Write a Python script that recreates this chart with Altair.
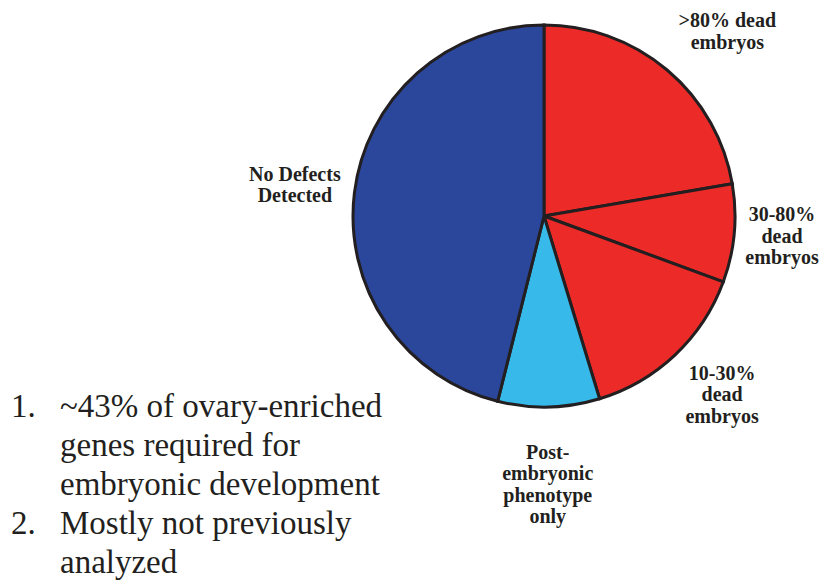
import altair as alt
import pandas as pd

# Share of ovary-enriched genes in each RNAi phenotype class (percent)
categories = [
    ">80% dead embryos",
    "30-80% dead embryos",
    "10-30% dead embryos",
    "Post-embryonic phenotype only",
    "No Defects Detected",
]
shares = [22.3, 8.3, 14.7, 8.6, 46.1]
label_lines = [
    [">80% dead", "embryos"],
    ["30-80%", "dead", "embryos"],
    ["10-30%", "dead", "embryos"],
    ["Post-", "embryonic", "phenotype", "only"],
    ["No Defects", "Detected"],
]
slice_colors = ["#EC2A28", "#EC2A28", "#EC2A28", "#37BAEA", "#2B479C"]

bullet_numbers = ["1.", "", "", "2.", ""]
bullet_lines = [
    "~43% of ovary-enriched",
    "genes required for",
    "embryonic development",
    "Mostly not previously",
    "analyzed",
]

df = pd.DataFrame({
    "category": categories,
    "share": shares,
    "label": ["|".join(lines) for lines in label_lines],
    "order": list(range(len(categories))),
})
total = sum(shares)

INK = "#231F20"
SERIF = "Liberation Serif"
CX, CY, R = 544, 216, 191
LINE_H = 21.5
theta_scale = alt.Scale(domain=[0, total])

pie = alt.Chart(df).mark_arc(radius=R, stroke=INK, strokeWidth=3).encode(
    theta=alt.Theta("share:Q", stack=True, scale=theta_scale),
    order=alt.Order("order:Q"),
    color=alt.Color("category:N", scale=alt.Scale(domain=categories, range=slice_colors), legend=None),
    x=alt.value(CX),
    y=alt.value(CY),
)

# mid-angle of each slice, for placing the labels
label_base = alt.Chart(df).transform_window(
    cum="sum(share)", sort=[alt.SortField("order")], frame=[None, 0]
).transform_calculate(mid="datum.cum - datum.share / 2")


def slice_label(cat, n_lines, radius, dx=0, dy=0):
    # one text mark per line, the block centred on the anchor point
    layers = []
    for k in range(n_lines):
        layers.append(
            label_base.transform_filter(alt.datum.category == cat)
            .transform_calculate(txt=f"split(datum.label, '|')[{k}]")
            .mark_text(
                radius=radius, dx=dx, dy=dy + (k - (n_lines - 1) / 2) * LINE_H,
                font=SERIF, fontWeight="bold", fontSize=20,
                align="center", baseline="middle", color=INK,
            )
            .encode(
                theta=alt.Theta("mid:Q", scale=theta_scale),
                text="txt:N",
                x=alt.value(CX),
                y=alt.value(CY),
            )
        )
    return layers


offsets = [(258, 17, 13), (238, 1, -1), (252, 5, -4), (269, -3, 0), (251, 0, 0)]
label_layers = []
for c, lines, (r, dx, dy) in zip(categories, label_lines, offsets):
    label_layers += slice_label(c, len(lines), r, dx, dy)

# numbered notes, one text mark per line
note_layers = []
for k, (num, line) in enumerate(zip(bullet_numbers, bullet_lines)):
    y_px = 417 + 39 * k
    note_layers.append(
        alt.Chart(pd.DataFrame({"t": [line]})).mark_text(
            font=SERIF, fontSize=33, align="left", baseline="alphabetic", color=INK
        ).encode(text="t:N", x=alt.value(60), y=alt.value(y_px))
    )
    if num:
        note_layers.append(
            alt.Chart(pd.DataFrame({"t": [num]})).mark_text(
                font=SERIF, fontSize=33, align="left", baseline="alphabetic", color=INK
            ).encode(text="t:N", x=alt.value(11), y=alt.value(y_px))
        )

chart = (
    alt.layer(pie, *label_layers, *note_layers)
    .properties(
        width=825, height=588, autosize=alt.AutoSizeParams(type="none"), padding=0,
        background="white",
    )
    .configure(font=SERIF)
    .configure_text(font=SERIF)
    .configure_view(stroke=None)
)

chart.save("out.html", embed_options={"renderer": "svg", "actions": False})
